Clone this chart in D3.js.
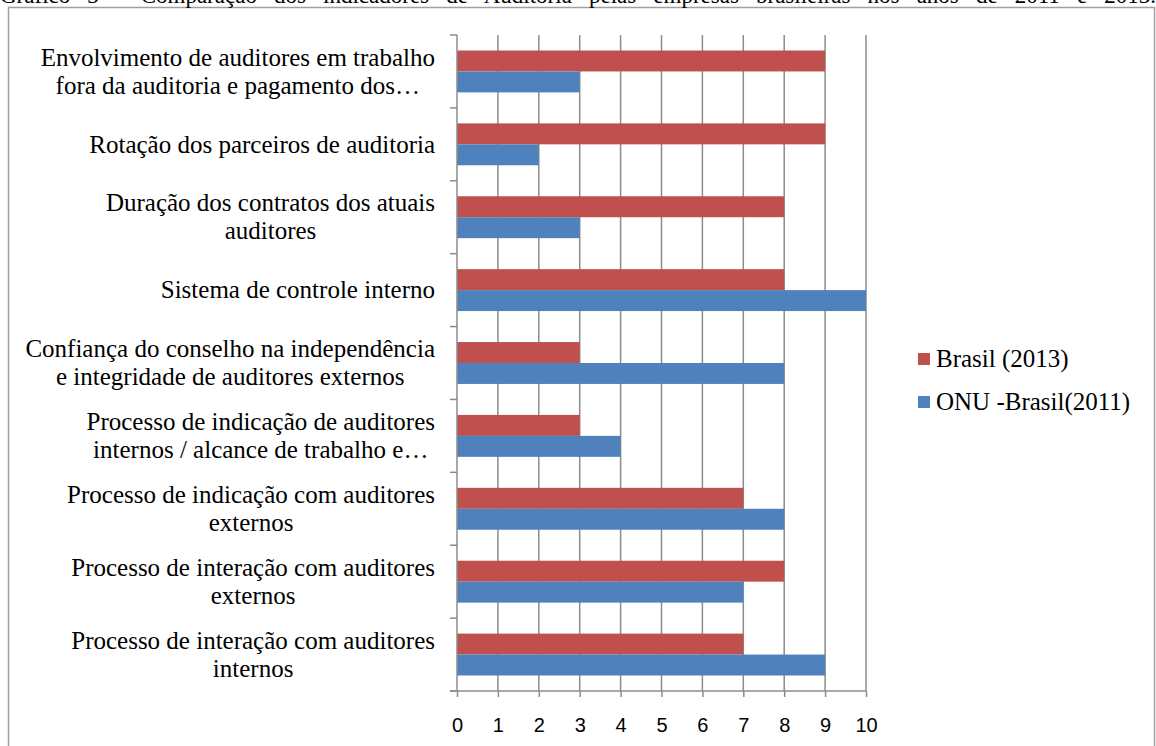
<!DOCTYPE html>
<html>
<head>
<meta charset="utf-8">
<script src="https://cdn.jsdelivr.net/npm/d3@7"></script>
<style>
  body { margin: 0; background: #fff; }
  svg { display: block; }
</style>
</head>
<body>
<div id="chart"></div>
<script>
// chart data
const titleText = "Gráfico 3 - Comparação dos indicadores de Auditoria pelas empresas brasileiras nos anos de 2011 e 2013.";
const categories = [
    ["Envolvimento de auditores em trabalho", "fora da auditoria e pagamento dos…"],
    ["Rotação dos parceiros de auditoria"],
    ["Duração dos contratos dos atuais", "auditores"],
    ["Sistema de controle interno"],
    ["Confiança do conselho na independência", "e integridade de auditores externos"],
    ["Processo de indicação de auditores", "internos / alcance de trabalho e…"],
    ["Processo de indicação com auditores", "externos"],
    ["Processo de interação com auditores", "externos"],
    ["Processo de interação com auditores", "internos"]
];
const brasil2013 = [9, 9, 8, 8, 3, 3, 7, 8, 7];
const onuBrasil2011 = [3, 2, 3, 10, 8, 4, 8, 7, 9];
const seriesNames = ["Brasil (2013)", "ONU -Brasil(2011)"];
const seriesColors = ["#C0504D", "#4F81BD"];
const xTicks = [0, 1, 2, 3, 4, 5, 6, 7, 8, 9, 10];

const width = 1156, height = 746;
const margin = {top: 35, right: 290, bottom: 55, left: 457};
const serif = "'Liberation Serif', 'Times New Roman', serif";
const sans = "'Liberation Sans', Arial, sans-serif";
const gridColor = "#8c8c8c";

let svg = d3.select("#chart").append("svg")
    .attr("width", width)
    .attr("height", height)

// outer frame of the figure
svg.append("rect")
    .attr("x", 8.5).attr("y", 7.5)
    .attr("width", 1146).attr("height", 760)
    .attr("fill", "none")
    .attr("stroke", "#a0a0a0")
    .attr("stroke-width", 1.5)

// caption, mostly cut off at the top (justified across the page)
let title = svg.append("text")
    .attr("x", 0).attr("y", 3)
    .style("font-family", serif)
    .style("font-size", "23px")
    .attr("fill", "#000")
    .text(titleText)
let natural = title.node().getComputedTextLength()
let spaces = titleText.split(" ").length - 1
title.style("word-spacing", ((width - natural) / spaces) + "px")

let x = d3.scaleLinear()
    .domain([0, 10])
    .range([margin.left, 866])
let y = d3.scaleBand()
    .domain(d3.range(categories.length))
    .range([margin.top, height - margin.bottom])
let inner = d3.scaleBand()
    .domain([0, 1])
    .range([0, y.bandwidth()])
    .paddingInner(0)
    .paddingOuter(0.74)

// vertical gridlines
svg.append("g").selectAll("line")
    .data(xTicks.filter(d => d > 0))
    .enter().append("line")
    .attr("x1", d => x(d)).attr("x2", d => x(d))
    .attr("y1", margin.top).attr("y2", height - margin.bottom)
    .attr("stroke", gridColor)
    .attr("stroke-width", 1.5)

// bars
let series = [brasil2013, onuBrasil2011]
series.forEach((values, s) => {
    svg.append("g").selectAll("rect")
        .data(values)
        .enter().append("rect")
        .attr("x", x(0))
        .attr("y", (d, i) => y(i) + inner(s))
        .attr("width", d => x(d) - x(0))
        .attr("height", inner.bandwidth())
        .attr("fill", seriesColors[s])
})

// x axis
let bottom = height - margin.bottom
let xAxis = d3.axisBottom(x)
    .tickValues(xTicks)
    .tickSize(6)
    .tickSizeOuter(0)
    .tickPadding(21)
let xAx = svg.append("g")
    .attr("transform", "translate(0," + bottom + ")")
    .call(xAxis)
xAx.select(".domain").remove()
xAx.selectAll(".tick line").attr("stroke", gridColor).attr("stroke-width", 1.5)
xAx.selectAll(".tick text")
    .style("font-family", sans)
    .style("font-size", "20px")
    .attr("fill", "#000")
svg.append("line")
    .attr("x1", x(0) - 7).attr("x2", x(10))
    .attr("y1", bottom).attr("y2", bottom)
    .attr("stroke", gridColor).attr("stroke-width", 1.5)

// y axis with ticks between categories
svg.append("line")
    .attr("x1", x(0)).attr("x2", x(0))
    .attr("y1", margin.top).attr("y2", bottom)
    .attr("stroke", gridColor).attr("stroke-width", 1.5)
svg.append("g").selectAll("line")
    .data(d3.range(categories.length + 1))
    .enter().append("line")
    .attr("x1", x(0) - 7).attr("x2", x(0))
    .attr("y1", i => margin.top + i * y.step())
    .attr("y2", i => margin.top + i * y.step())
    .attr("stroke", gridColor).attr("stroke-width", 1.5)

// category labels: block right aligned, lines centred on each other
let labelRight = 435
let lineHeight = 28
categories.forEach((lines, i) => {
    let g = svg.append("g")
    let texts = lines.map(line => g.append("text")
        .style("font-family", serif)
        .style("font-size", "25px")
        .attr("fill", "#000")
        .attr("text-anchor", "middle")
        .attr("dy", "0.33em")
        .text(line))
    let w = d3.max(texts, t => t.node().getComputedTextLength())
    let cy = y(i) + y.bandwidth() / 2
    texts.forEach((t, k) => {
        t.attr("x", labelRight - w / 2)
            .attr("y", cy + (k - (lines.length - 1) / 2) * lineHeight)
    })
})

// legend
let legend = svg.append("g").attr("transform", "translate(918,359)")
seriesNames.forEach((name, s) => {
    legend.append("rect")
        .attr("x", 0).attr("y", s * 43 - 6)
        .attr("width", 12).attr("height", 12)
        .attr("fill", seriesColors[s])
    legend.append("text")
        .attr("x", 18).attr("y", s * 43)
        .attr("dy", "0.33em")
        .style("font-family", serif)
        .style("font-size", "25px")
        .attr("fill", "#000")
        .text(name)
})
</script>
</body>
</html>
